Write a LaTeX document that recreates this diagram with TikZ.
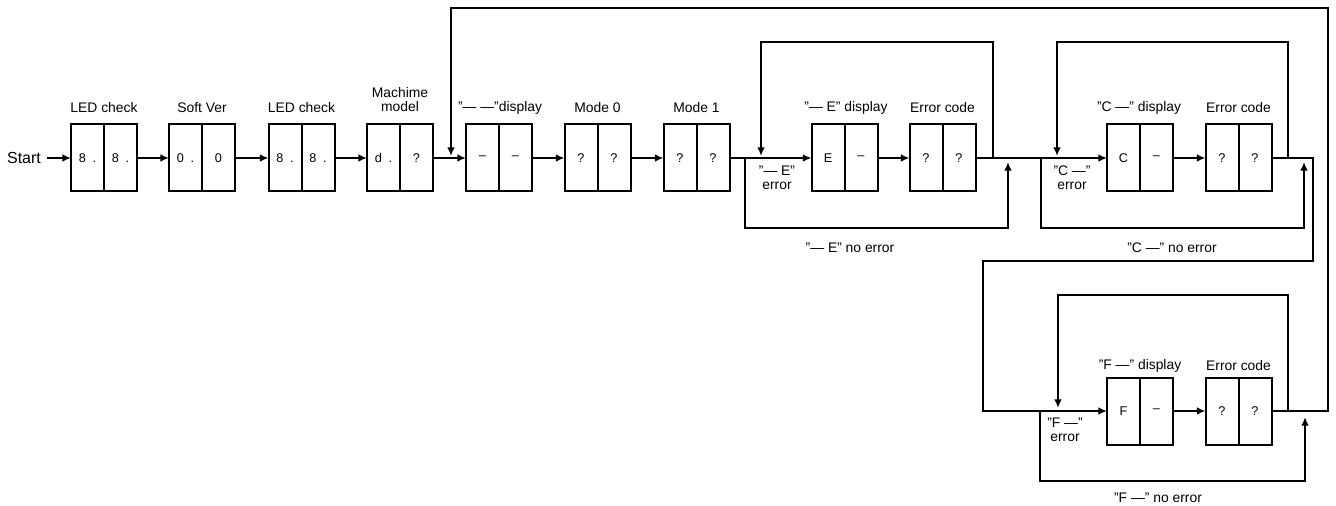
\documentclass[tikz,border=0pt]{standalone}
\usepackage{fontspec}
\setmainfont{Liberation Sans}
\usetikzlibrary{arrows.meta}
\newcommand\dispbox[5]{%
  \node[half] (#1l) at (#2-16.5,#3) {#4};
  \node[half] (#1r) at (#2+16.5,#3) {#5};}
\newcommand\qq{\char34\relax}
\begin{document}
\begin{tikzpicture}[x=0.75pt,y=-0.75pt,
  line width=1.5pt,
  half/.style={draw,line width=1.5pt,minimum width=24.75pt,minimum height=50.25pt,
    inner sep=0pt,outer sep=0pt,font=\fontsize{9.5}{11}\selectfont},
  lbl/.style={font=\fontsize{10.4}{10.5}\selectfont,inner sep=0pt,align=center},
  arr/.style={-{Latex[length=6.5pt,width=5.8pt]}}
]
\useasboundingbox (0,0) rectangle (1336,506);
% start
\node[font=\fontsize{12}{12}\selectfont,inner sep=0pt] (start) at (24,158) {Start};
% boxes
\dispbox{ba}{104}{158}{8\hspace{5pt}.}{8\hspace{5pt}.}
\dispbox{bb}{202}{158}{0\hspace{5pt}.}{0}
\dispbox{bc}{301.5}{158}{8\hspace{5pt}.}{8\hspace{5pt}.}
\dispbox{bd}{400}{158}{d\hspace{5pt}.}{?}
\dispbox{be}{499}{158}{–}{–}
\dispbox{bf}{597.5}{158}{?}{?}
\dispbox{bg}{696.5}{158}{?}{?}
\dispbox{ed}{844.5}{158}{E}{–}
\dispbox{ec}{942.5}{158}{?}{?}
\dispbox{cd}{1140}{158}{C}{–}
\dispbox{cc}{1238.5}{158}{?}{?}
\dispbox{fd}{1140}{411}{F}{–}
\dispbox{fc}{1238.5}{411}{?}{?}
% labels
\node[lbl] (la) at (104,108) {LED check};
\node[lbl] (lb) at (202,108) {Soft Ver};
\node[lbl] (lc) at (301.5,108) {LED check};
\node[lbl] (ld) at (400,100) {Machime\\model};
\node[lbl] (le) at (500,108) {\qq— —\qq display};
\node[lbl] (lf) at (597.5,108) {Mode 0};
\node[lbl] (lg) at (696.5,108) {Mode 1};
\node[lbl] (led) at (846,108) {\qq— E\qq{} display};
\node[lbl] (lec) at (942.5,108) {Error code};
\node[lbl] (lcd) at (1139,108) {\qq C —\qq{} display};
\node[lbl] (lcc) at (1238.5,108) {Error code};
\node[lbl] (lfd) at (1140,366) {\qq F —\qq{} display};
\node[lbl] (lfc) at (1238.5,366) {Error code};
\node[lbl] (lee) at (777,178) {\qq— E\qq\\error};
\node[lbl] (lce) at (1072,178) {\qq C —\qq\\error};
\node[lbl] (lfe) at (1065,430) {\qq F —\qq\\error};
\node[lbl] (len) at (850,248) {\qq— E\qq{} no error};
\node[lbl] (lcn) at (1172,248) {\qq C —\qq{} no error};
\node[lbl] (lfn) at (1158,498) {\qq F —\qq{} no error};
% junction coordinates
\coordinate (jBig) at (451,156);
\coordinate (eLoopS) at (993,158);
\coordinate (eLoopE) at (761,156);
\coordinate (eByS) at (745,158);
\coordinate (eByE) at (1008,162);
\coordinate (cLoopS) at (1288,158);
\coordinate (cLoopE) at (1057,156);
\coordinate (cByS) at (1041,158);
\coordinate (cByE) at (1304,162);
\coordinate (fLoopS) at (1288,411);
\coordinate (fLoopE) at (1058,408);
\coordinate (fByS) at (1040,411);
\coordinate (fByE) at (1305,417);
% main chain
\draw[arr] (start.east) ++(5,0) -- (bal.west);
\draw[arr] (bar.east) -- (bbl.west);
\draw[arr] (bbr.east) -- (bcl.west);
\draw[arr] (bcr.east) -- (bdl.west);
\draw[arr] (bdr.east) -- (bel.west);
\draw[arr] (ber.east) -- (bfl.west);
\draw[arr] (bfr.east) -- (bgl.west);
\draw[arr] (bgr.east) -- (edl.west);
\draw[arr] (edr.east) -- (ecl.west);
\draw[arr] (ecr.east) -- (cdl.west);
\draw[arr] (cdr.east) -- (ccl.west);
\draw[arr] (ccr.east) -| (1313,261) -| (983,411) -- (fdl.west);
\draw[arr] (fdr.east) -- (fcl.west);
% big feedback
\draw[arr] (fcr.east) -| (1328,8) -| (jBig);
% E loop and bypass
\draw[arr] (eLoopS) |- (761,42) -- (eLoopE);
\draw[arr] (eByS) |- (1008,228) -- (eByE);
% C loop and bypass
\draw[arr] (cLoopS) |- (1057,42) -- (cLoopE);
\draw[arr] (cByS) |- (1304,228) -- (cByE);
% F loop and bypass
\draw[arr] (fLoopS) |- (1058,295) -- (fLoopE);
\draw[arr] (fByS) |- (1305,481) -- (fByE);
\end{tikzpicture}
\end{document}
